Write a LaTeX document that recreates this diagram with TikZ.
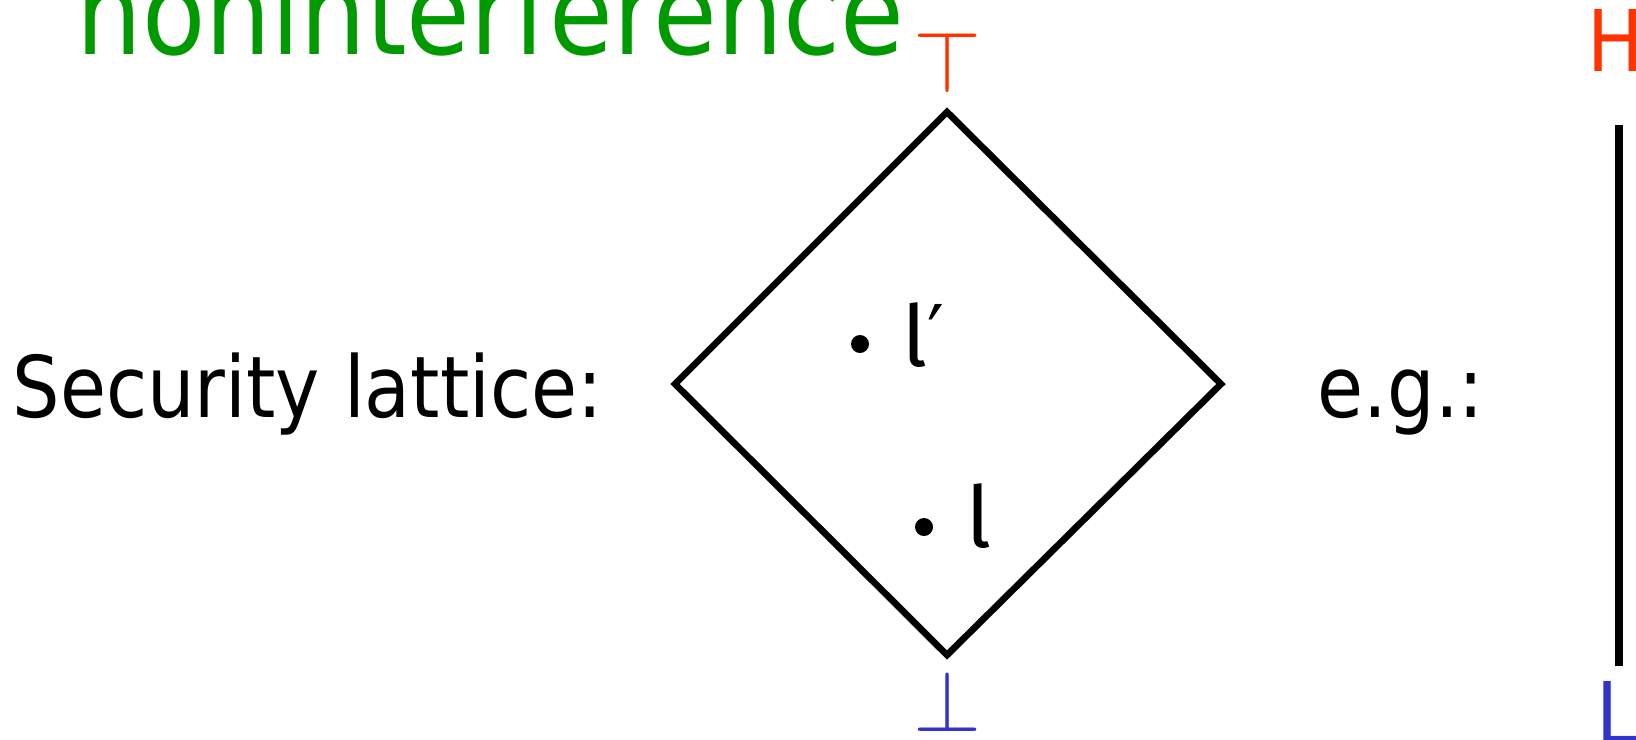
\documentclass[tikz,border=0pt]{standalone}
\usepackage{fontspec}
\setmainfont{DejaVu Sans}[FakeStretch=0.88]
\newfontfamily\ellfont{Fira Sans}
\definecolor{titlegreen}{RGB}{0, 153, 0}
\definecolor{topred}{RGB}{255, 51, 0}
\definecolor{botblue}{RGB}{51, 51, 204}
\usetikzlibrary{positioning}

\begin{document}
\begin{tikzpicture}[x=0.01cm, y=-0.01cm,
  txt/.style={inner sep=0pt, anchor=base west, font=\fontsize{24.2}{26}\selectfont},
  dot/.style={circle, fill=black, inner sep=0pt, minimum size=0.18cm}]
  \useasboundingbox (0,0) rectangle (1636,739);

  % Title (cut off at the top)
  \node[inner sep=0pt, anchor=base west, text=titlegreen, font=\fontsize{33.5}{36}\selectfont] (title) at (76, 54) {noninterference};

  % Left label
  \node[txt] (seclabel) at (12, 417) {Security lattice:};

  % Lattice
  \draw[line width=1.9pt, line join=miter] (947,112) coordinate (top) -- (1221,384) coordinate (right)
    -- (947,655) coordinate (bot) -- (675,384) coordinate (left) -- cycle;
  \node[inner sep=0pt, text=topred, font=\fontsize{23}{23}\selectfont] (topsym) at (948, 62) {$\top$};
  \node[inner sep=0pt, text=botblue, font=\fontsize{23}{23}\selectfont] (botsym) at (948, 701) {$\bot$};

  % Levels inside
  \node[dot] (lpdot) at (860, 344) {};
  \node[txt, font=\fontsize{24.2}{26}\ellfont] (lplabel) at (902, 366) {l{\rmfamily ′}};
  \node[dot] (ldot) at (924, 527) {};
  \node[txt, font=\fontsize{24.2}{26}\ellfont] (llabel) at (966, 547) {l};

  % Example
  \node[txt] (eg) at (1317, 417) {e.g.:};
  \node[txt, text=topred] (high) at (1587, 71) {H};
  \node[txt, text=botblue] (low) at (1596, 743) {L};
  \draw[line width=2.5pt] (1619, 125) -- (1619, 666);
\end{tikzpicture}
\end{document}
